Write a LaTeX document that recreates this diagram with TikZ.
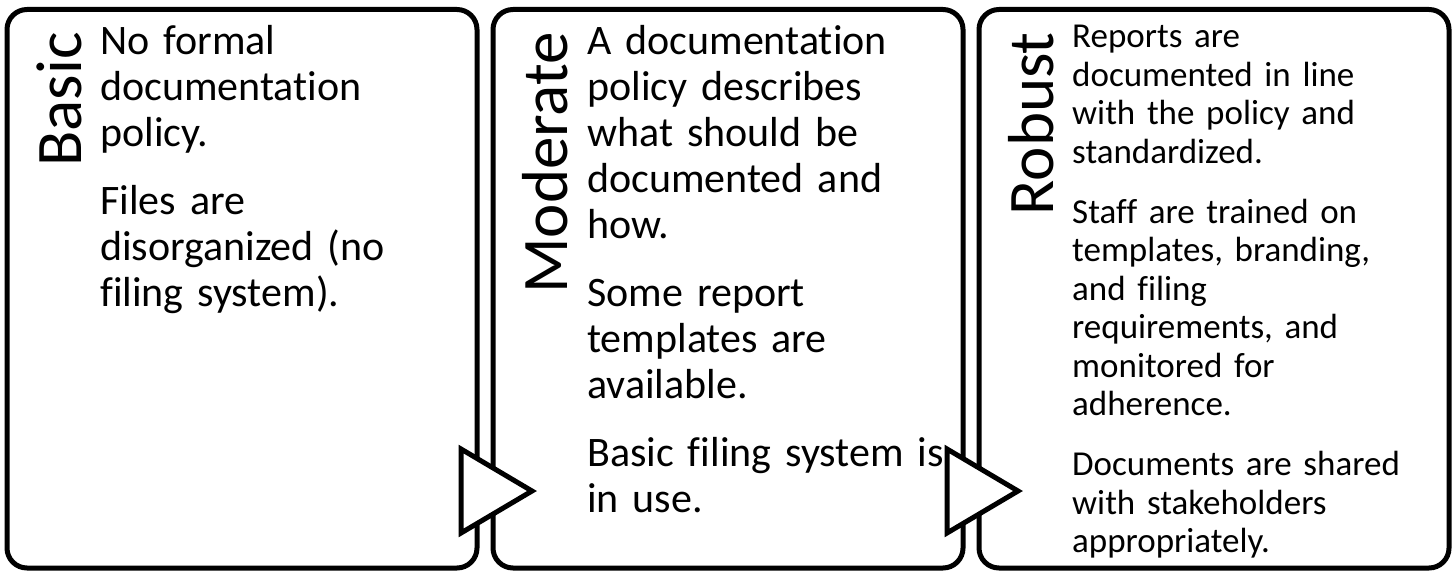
\documentclass[tikz,border=0pt]{standalone}
\usepackage{fontspec}
\setmainfont{Carlito}[Ligatures={NoCommon}]
\begin{document}
\begin{tikzpicture}[x=1pt,y=-1pt,
  box/.style={draw=black, line width=5pt, rounded corners=20pt, fill=white,
    minimum width=470pt, minimum height=558.5pt, anchor=north west,
    inner sep=0pt, outer sep=0pt},
  tri/.style={draw=black, line width=5pt, fill=white, line join=miter},
  title/.style={rotate=90, anchor=base east, inner sep=0pt,
    font=\fontsize{65}{65}\selectfont},
  bodyL/.style={anchor=base west, inner sep=0pt, text width=420pt,
    font=\fontsize{42}{46}\selectfont},
  bodyS/.style={anchor=base west, inner sep=0pt, text width=420pt,
    font=\fontsize{35}{38.4}\selectfont}]
\useasboundingbox (0,0) rectangle (1455,572);
% boxes
\node[box] (b1) at (7,9.5) {};
\node[box] (b2) at (493,9.5) {};
\node[box] (b3) at (979,9.5) {};
% arrows between stages
\draw[tri] (461,449) -- (532,491) -- (461,533) -- cycle;
\draw[tri] (947,449) -- (1018,491) -- (947,533) -- cycle;
% titles
\node[title] (t1) at (81,32) {Basic};
\node[title] (t2) at (567,32) {Moderate};
\node[title] (t3) at (1053,32) {Robust};
% body texts
\node[bodyL] (x1) at (100,55) {No formal\\documentation\\policy.\\[22pt]Files are\\disorganized (no\\filing system).};
\node[bodyL] (x2) at (587,55) {A documentation\\policy describes\\what should be\\documented and\\how.\\[22pt]Some report\\templates are\\available.\\[22pt]Basic filing system is\\in use.};
\node[bodyS] (x3) at (1072,48) {Reports are\\documented in line\\with the policy and\\standardized.\\[22pt]Staff are trained on\\templates, branding,\\and filing\\requirements, and\\monitored for\\adherence.\\[22pt]Documents are shared\\with stakeholders\\appropriately.};
\end{tikzpicture}
\end{document}
